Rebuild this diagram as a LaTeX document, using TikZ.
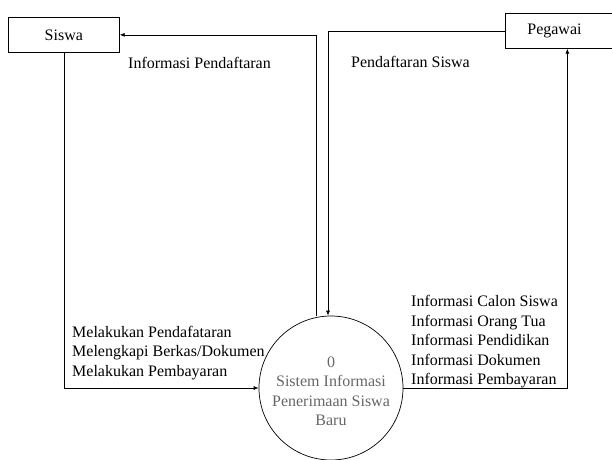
\documentclass[tikz,border=0pt]{standalone}
\usepackage{fontspec}
\setmainfont{Liberation Serif}
\usepackage{tikz}
\usetikzlibrary{positioning}
\usetikzlibrary{calc}
\usetikzlibrary{arrows.meta}

\tikzset{
    entitas/.style={draw, line width=0.7pt, minimum height=35pt},
    proses/.style={draw, circle, line width=0.7pt, minimum size=144pt, inner sep=0pt, align=center, text=black!60},
    alir/.style={draw, line width=0.7pt, -{Latex[length=5pt, width=4pt]}},
    ket/.style={inner sep=0pt, align=left}
}

\begin{document}
\begin{tikzpicture}[x=1pt, y=-1pt, font=\fontsize{16}{19.5}\selectfont]

\useasboundingbox (0,0) rectangle (612,459);

% Entitas luar
\node[entitas, minimum width=111pt, anchor=north west] (siswa) at (8,17) {Siswa};
\node[entitas, anchor=north west, inner xsep=22pt, text width=80pt, align=left] (pegawai) at (505,13) {Pegawai};

% Proses
\node[proses] (sistem) at (331,388) {};
\node[align=center, inner sep=0pt, text=black!60] (judul) at (331,391) {0\\Sistem Informasi\\Penerimaan Siswa\\Baru};

% Titik bantu untuk garis tegak
\coordinate (kiri) at (316,0);
\coordinate (kanan) at (328,0);

% Alir data
\draw[alir] (sistem.north -| kiri) |- (siswa.east);
\draw[alir] (pegawai.west) -| (sistem.north -| kanan);
\draw[alir] (siswa.south) |- (sistem.west);
\draw[alir] (sistem.east) -| (pegawai.south);

% Keterangan
\node[ket, anchor=west] (infodaftar) at (128,63) {Informasi Pendaftaran};
\node[ket, anchor=west] (daftarsiswa) at (351,62) {Pendaftaran Siswa};
\node[ket, anchor=west] (kegiatan) at (72,353) {Melakukan Pendafataran\\Melengkapi Berkas/Dokumen\\Melakukan Pembayaran};
\node[ket, anchor=west] (informasi) at (411,342) {Informasi Calon Siswa\\Informasi Orang Tua\\Informasi Pendidikan\\Informasi Dokumen\\Informasi Pembayaran};

\end{tikzpicture}
\end{document}
